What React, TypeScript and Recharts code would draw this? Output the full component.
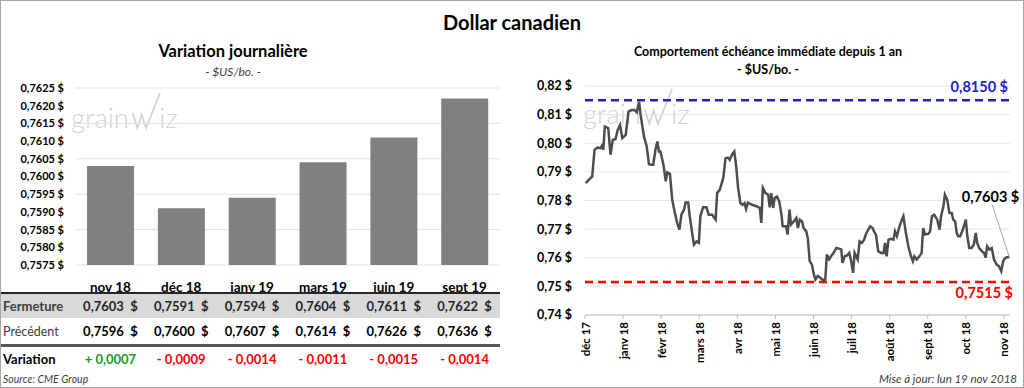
import { Bar, BarChart, CartesianGrid, Line, LineChart, ReferenceLine, XAxis, YAxis } from "recharts";

// contrats (gauche)
const contracts = ["nov 18", "déc 18", "janv 19", "mars 19", "juin 19", "sept 19"];
const closing = [0.7603, 0.7591, 0.7594, 0.7604, 0.7611, 0.7622];
const previous = [0.7596, 0.76, 0.7607, 0.7614, 0.7626, 0.7636];
const variation = [0.0007, -0.0009, -0.0014, -0.0011, -0.0015, -0.0014];
const barTicks = [0.7575, 0.758, 0.7585, 0.759, 0.7595, 0.76, 0.7605, 0.761, 0.7615, 0.762, 0.7625];

// échéance immédiate, 1 an (droite) - x en mois depuis déc 17
const monthLabels = ["déc 17", "janv 18", "févr 18", "mars 18", "avr 18", "mai 18", "juin 18", "juil 18", "août 18", "sept 18", "oct 18", "nov 18"];
const trendMonth = [
  0.02, 0.1, 0.19, 0.25, 0.33, 0.41, 0.46, 0.48, 0.52, 0.61, 0.67, 0.73, 0.8, 0.86, 0.92, 0.98, 1.07, 1.14, 1.22, 1.3,
  1.36, 1.42, 1.46, 1.55, 1.62, 1.68, 1.75, 1.79, 1.85, 1.9, 1.94, 1.98, 2.06, 2.12, 2.16, 2.23, 2.29, 2.36, 2.42, 2.48,
  2.53, 2.6, 2.64, 2.71, 2.75, 2.82, 2.86, 2.93, 2.99, 3.03, 3.1, 3.19, 3.25, 3.34, 3.43, 3.47, 3.54, 3.63, 3.69, 3.75,
  3.8, 3.86, 3.92, 3.97, 4.02, 4.08, 4.14, 4.19, 4.23, 4.28, 4.39, 4.52, 4.59, 4.63, 4.67, 4.74, 4.81, 4.85, 4.89, 4.94,
  4.98, 5.04, 5.1, 5.16, 5.19, 5.28, 5.32, 5.37, 5.41, 5.48, 5.55, 5.59, 5.64, 5.7, 5.74, 5.81, 5.85, 5.9, 5.96, 6.0,
  6.05, 6.11, 6.18, 6.25, 6.31, 6.35, 6.41, 6.46, 6.53, 6.6, 6.67, 6.73, 6.76, 6.82, 6.88, 6.94, 6.99, 7.04, 7.08, 7.16,
  7.21, 7.27, 7.33, 7.38, 7.44, 7.49, 7.55, 7.59, 7.64, 7.7, 7.77, 7.84, 7.88, 7.92, 7.97, 8.03, 8.1, 8.14, 8.19, 8.26,
  8.32, 8.36, 8.42, 8.49, 8.56, 8.61, 8.65, 8.71, 8.78, 8.84, 8.88, 8.93, 9.02, 9.06, 9.11, 9.17, 9.25, 9.31, 9.35, 9.41,
  9.45, 9.51, 9.57, 9.63, 9.67, 9.72, 9.76, 9.8, 9.85, 9.89, 9.95, 10.0, 10.04, 10.09, 10.15, 10.21, 10.26, 10.3, 10.35, 10.42,
  10.48, 10.52, 10.56, 10.62, 10.68, 10.74, 10.81, 10.87, 10.93, 10.98, 11.02, 11.08, 11.14,
];
const trendValue = [
  0.7861, 0.7872, 0.7884, 0.7977, 0.7985, 0.7983, 0.7994, 0.7977, 0.8058, 0.8053, 0.796, 0.8012, 0.8014, 0.8047, 0.8064, 0.8018, 0.8029, 0.811, 0.8116, 0.8116,
  0.8108, 0.8145, 0.8099, 0.8023, 0.7989, 0.7927, 0.7925, 0.7925, 0.7977, 0.8006, 0.7971, 0.7971, 0.7925, 0.7867, 0.7898, 0.7893, 0.7803, 0.7756, 0.7722, 0.7698,
  0.775, 0.7768, 0.7793, 0.7793, 0.7745, 0.7681, 0.7646, 0.7657, 0.7652, 0.7745, 0.7776, 0.7776, 0.775, 0.775, 0.7733, 0.7826, 0.7838, 0.7878, 0.7948, 0.795,
  0.7942, 0.796, 0.7971, 0.7919, 0.7844, 0.7791, 0.7785, 0.7791, 0.777, 0.7793, 0.7785, 0.7779, 0.7774, 0.7722, 0.7844, 0.7826, 0.782, 0.7776, 0.7826, 0.7774,
  0.7809, 0.7814, 0.7797, 0.775, 0.771, 0.771, 0.7681, 0.7768, 0.7716, 0.7727, 0.7739, 0.7704, 0.7733, 0.7727, 0.7704, 0.7692, 0.7669, 0.7588, 0.7576, 0.7547,
  0.7524, 0.7536, 0.753, 0.7522, 0.7524, 0.7611, 0.7594, 0.7605, 0.7617, 0.7634, 0.7632, 0.7629, 0.7582, 0.7605, 0.7608, 0.7617, 0.7588, 0.7547, 0.7617, 0.7594,
  0.7657, 0.7652, 0.7663, 0.7684, 0.7698, 0.771, 0.7704, 0.7692, 0.7681, 0.7623, 0.7617, 0.7617, 0.7652, 0.7605, 0.7663, 0.7666, 0.7663, 0.7692, 0.7675, 0.771,
  0.7733, 0.7745, 0.7692, 0.764, 0.7605, 0.7588, 0.7605, 0.7594, 0.7605, 0.7617, 0.7704, 0.7681, 0.7684, 0.7692, 0.7745, 0.775, 0.7733, 0.7698, 0.7745, 0.7779,
  0.782, 0.7803, 0.7756, 0.7756, 0.7733, 0.7727, 0.7687, 0.7675, 0.7675, 0.7687, 0.771, 0.7733, 0.7675, 0.7634, 0.7634, 0.7646, 0.7687, 0.7652, 0.7634, 0.7623,
  0.7617, 0.76, 0.764, 0.7629, 0.7634, 0.7594, 0.7576, 0.757, 0.7553, 0.7588, 0.7597, 0.7602, 0.7603,
];
const lineTicks = [0.74, 0.75, 0.76, 0.77, 0.78, 0.79, 0.8, 0.81, 0.82];
const yearHigh = 0.815;
const yearLow = 0.7515;

const FONT = "Lato, 'Noto Sans', sans-serif";

const money = (v: number, d: number) => v.toFixed(d).replace(".", ",") + " $";
const signed = (v: number) => (v >= 0 ? "+ " : "- ") + Math.abs(v).toFixed(4).replace(".", ",");

const barData = contracts.map((c, i) => ({ c, close: closing[i] }));
const lineData = trendMonth.map((m, i) => ({ m, v: trendValue[i] }));
const lastIdx = lineData.length - 1;

function ContractTick({ x, y, payload }: any) {
  return (
    <text x={x} y={y + 27} textAnchor="middle" fontSize={13.5} fontWeight={700} fill="#000">
      {payload.value}
    </text>
  );
}

function MonthTick({ x, y, payload }: any) {
  return (
    <text
      x={x}
      y={y}
      transform={`rotate(-90, ${x}, ${y})`}
      textAnchor="end"
      dominantBaseline="central"
      fontSize={11.5}
      fontWeight={700}
      fill="#000"
    >
      {monthLabels[payload.value]}
    </text>
  );
}

function LastLabel({ x, y, index }: any) {
  if (index !== lastIdx) return null;
  return (
    <g>
      <line x1={x} y1={y} x2={x - 17} y2={y - 52} stroke="#a6a6a6" strokeWidth={1} />
      <text x={x + 10} y={y - 55} textAnchor="end" fontSize={14.5} fontWeight={700} fill="#000">
        {money(trendValue[lastIdx], 4)}
      </text>
    </g>
  );
}

function HighLabel({ viewBox }: any) {
  return (
    <text x={viewBox.x + viewBox.width - 2} y={viewBox.y - 8} textAnchor="end" fontSize={14.5} fontWeight={700} fill="#2222c4">
      {money(yearHigh, 4)}
    </text>
  );
}

function LowLabel({ viewBox }: any) {
  return (
    <text x={viewBox.x + viewBox.width + 3} y={viewBox.y + 16} textAnchor="end" fontSize={14.5} fontWeight={700} fill="#ff0000">
      {money(yearLow, 4)}
    </text>
  );
}

function Watermark({ dx, dy }: { dx: number; dy: number }) {
  return (
    <g transform={`translate(${dx}, ${dy})`} fill="#d4d4d4">
      <text x={71} y={128} fontSize={28} fontWeight={300} fontFamily={FONT} textLength={58} lengthAdjust="spacingAndGlyphs">
        grain
      </text>
      <polyline
        points="132.7,113 137.3,128 141.7,114.7 146,128 160,93"
        fill="none"
        stroke="#d4d4d4"
        strokeWidth={1.8}
      />
      <text x={159} y={128} fontSize={28} fontWeight={300} fontFamily={FONT} textLength={19} lengthAdjust="spacingAndGlyphs">
        iz
      </text>
    </g>
  );
}

const rowLabel: React.CSSProperties = { width: 75, paddingLeft: 3, boxSizing: "border-box" };
const cell: React.CSSProperties = { width: 70.83, textAlign: "center", whiteSpace: "pre" };

export default function App() {
  return (
    <div
      style={{
        position: "relative",
        width: 1024,
        height: 388,
        boxSizing: "border-box",
        border: "1px solid #a6a6a6",
        background: "#fff",
        fontFamily: FONT,
        overflow: "hidden",
      }}
    >
      <style>{"body{margin:0}"}</style>
      <svg width={1024} height={388} style={{ position: "absolute", left: -1, top: -1 }}>
        <Watermark dx={0} dy={0} />
        <Watermark dx={512} dy={-4} />
      </svg>

      <div style={{ position: "absolute", left: 0, width: 1022, top: 9, textAlign: "center", fontSize: 20, fontWeight: 700 }}>
        Dollar canadien
      </div>

      {/* gauche */}
      <div style={{ position: "absolute", left: 0, width: 464, top: 40, textAlign: "center", fontSize: 16.5, fontWeight: 700 }}>
        Variation journalière
      </div>
      <div style={{ position: "absolute", left: 0, width: 464, top: 63, textAlign: "center", fontSize: 12, fontStyle: "italic", color: "#404040" }}>
        - $US/bo. -
      </div>
      <div style={{ position: "absolute", left: -1, top: -1 }}>
        <BarChart width={512} height={300} data={barData} margin={{ top: 88, right: 12, bottom: 0, left: 0 }} barCategoryGap="17%">
          <CartesianGrid stroke="#e3e3e3" vertical={false} />
          <XAxis dataKey="c" height={35} axisLine={false} tickLine={false} tickSize={0} tickMargin={0} tick={<ContractTick />} interval={0} />
          <YAxis
            width={75}
            domain={[0.7575, 0.7625]}
            ticks={barTicks}
            allowDataOverflow
            axisLine={false}
            tickLine={false}
            tickSize={0}
            tickMargin={11}
            tickFormatter={(v: number) => money(v, 4)}
            tick={{ fontSize: 11, fontWeight: 700, fill: "#000", fontFamily: FONT }}
          />
          <Bar dataKey="close" fill="#808080" isAnimationActive={false} />
        </BarChart>
      </div>

      {/* tableau */}
      <div style={{ position: "absolute", left: -1, top: 291, width: 500, fontSize: 13, color: "#000" }}>
        <div style={{ height: 2, background: "#262626" }} />
        <div style={{ display: "flex", height: 24, alignItems: "center", background: "#d9d9d9", fontWeight: 700 }}>
          <div style={{ ...rowLabel, color: "#404040" }}>Fermeture</div>
          {closing.map((v, i) => (
            <div key={i} style={{ ...cell, color: "#262626" }}>{v.toFixed(4).replace(".", ",") + "  $"}</div>
          ))}
        </div>
        <div style={{ display: "flex", height: 26, alignItems: "center", fontWeight: 700 }}>
          <div style={{ ...rowLabel, fontWeight: 400, color: "#404040", fontSize: 12.5 }}>Précédent</div>
          {previous.map((v, i) => (
            <div key={i} style={cell}>{v.toFixed(4).replace(".", ",") + "  $"}</div>
          ))}
        </div>
        <div style={{ height: 3, background: "#595959" }} />
        <div style={{ display: "flex", height: 24, alignItems: "center", fontWeight: 700 }}>
          <div style={rowLabel}>Variation</div>
          {variation.map((v, i) => (
            <div key={i} style={{ ...cell, color: v >= 0 ? "#1a9a1a" : "#ff0000" }}>{signed(v)}</div>
          ))}
        </div>
      </div>
      <div style={{ position: "absolute", left: 2, top: 372, fontSize: 10.5, fontStyle: "italic", color: "#404040" }}>
        Source: CME Group
      </div>

      {/* droite */}
      <div style={{ position: "absolute", left: 512, width: 510, top: 43, textAlign: "center", fontSize: 12.5, fontWeight: 700 }}>
        Comportement échéance immédiate depuis 1 an
      </div>
      <div style={{ position: "absolute", left: 512, width: 510, top: 61, textAlign: "center", fontSize: 12.5, fontWeight: 700 }}>
        - $US/bo. -
      </div>
      <div style={{ position: "absolute", left: 511, top: -1 }}>
        <LineChart width={512} height={388} data={lineData} margin={{ top: 86, right: 14, bottom: 0, left: 0 }}>
          <CartesianGrid stroke="#e6e6e6" vertical={false} />
          <XAxis
            dataKey="m"
            type="number"
            domain={[0, 11.16]}
            allowDataOverflow
            ticks={monthLabels.map((_, i) => i)}
            interval={0}
            height={73}
            axisLine={{ stroke: "#bfbfbf" }}
            tickLine={{ stroke: "#bfbfbf" }}
            tickSize={4}
            tickMargin={3}
            tick={<MonthTick />}
          />
          <YAxis
            width={73}
            domain={[0.74, 0.82]}
            ticks={lineTicks}
            allowDataOverflow
            axisLine={false}
            tickLine={false}
            tickSize={0}
            tickMargin={13}
            tickFormatter={(v: number) => money(v, 2)}
            tick={{ fontSize: 12.5, fontWeight: 700, fill: "#000", fontFamily: FONT }}
          />
          <ReferenceLine y={yearHigh} stroke="#2222c4" strokeWidth={2.5} strokeDasharray="8 5" label={<HighLabel />} />
          <ReferenceLine y={yearLow} stroke="#ff0000" strokeWidth={2.5} strokeDasharray="8 5" label={<LowLabel />} />
          <Line
            dataKey="v"
            type="linear"
            stroke="#4d4d4d"
            strokeWidth={2.5}
            dot={false}
            label={<LastLabel />}
            isAnimationActive={false}
          />
        </LineChart>
      </div>
      <div style={{ position: "absolute", right: 6, top: 371, fontSize: 11.5, fontStyle: "italic", color: "#404040" }}>
        Mise à jour: lun 19 nov 2018
      </div>
    </div>
  );
}
